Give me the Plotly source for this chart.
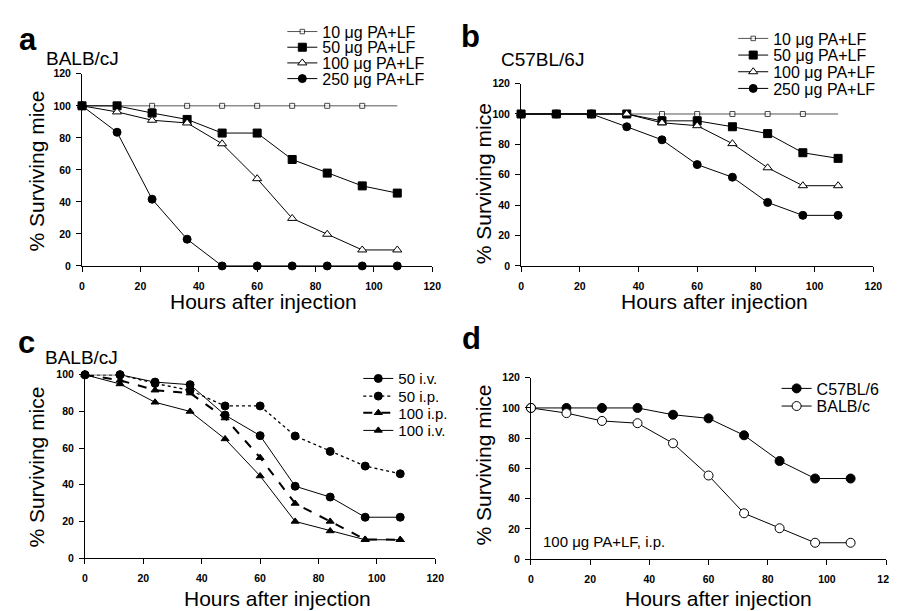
import plotly.graph_objects as go

W, H = 897, 611

# ---------------- data ----------------
hours = [0, 12, 24, 36, 48, 60, 72, 84, 96, 108]
axis_ticks = [0, 20, 40, 60, 80, 100, 120]
axis_ticks_c = [0, 20, 40, 60, 80, 100]

# panel a: BALB/cJ
a_10 = [100, 100, 100, 100, 100, 100, 100, 100, 100, 100]
a_50 = [100, 100, 95.5, 91.5, 83, 83, 66.5, 58, 50, 45.5]
a_100 = [100, 96.2, 91, 89.3, 76.3, 54.5, 29.7, 19.8, 10, 10]
a_250 = [100, 83.5, 41.7, 16.7, 0, 0, 0, 0, 0, 0]

# panel b: C57BL/6J
b_10 = [100, 100, 100, 100, 100, 100, 100, 100, 100, 100]
b_50 = [100, 100, 100, 100, 95.5, 95.5, 91.6, 87.1, 74.5, 70.8]
b_100 = [100, 100, 100, 100, 94.2, 92.3, 80.5, 64.6, 52.8, 52.8]
b_250 = [100, 100, 100, 91.6, 83, 66.7, 58.4, 41.8, 33.3, 33.3]

# panel c: BALB/cJ, route of injection
c_50iv = [100, 100, 96, 94.6, 78, 66.8, 39.2, 33.3, 22.3, 22.3]
c_50ip = [100, 100, 95.3, 91.5, 83, 83, 66.6, 58.2, 50.2, 46]
c_100ip = [100, 97, 91.6, 90, 76.4, 54.8, 29.8, 20, 10.2, 10]
c_100iv = [100, 95, 85, 80, 65, 44.8, 20, 14.8, 10, 10]

# panel d: 100 ug PA+LF i.p.
d_c57 = [100, 100, 100, 100, 95.5, 93.1, 81.9, 64.9, 53.3, 53.3]
d_balb = [100, 96.6, 91.4, 89.9, 76.6, 55.3, 30.3, 20.4, 10.8, 10.8]

dose_names = ["10 μg PA+LF", "50 μg PA+LF", "100 μg PA+LF", "250 μg PA+LF"]
route_names = ["50 i.v.", "50 i.p.", "100 i.p.", "100 i.v."]
strain_names = ["C57BL/6", "BALB/c"]

FONT = "Arial, Liberation Sans, sans-serif"


def px(x):
    return x / W


def py(y):
    return 1 - y / H


fig = go.Figure()

# axis domains (pixel boxes)
domains = {
    "1": dict(x=[72, 427], y=[257, 61]),
    "2": dict(x=[517, 874], y=[257, 71]),
    "3": dict(x=[75, 430], y=[555, 368]),
    "4": dict(x=[527, 887], y=[556, 371]),
}

legend_slots = {}
leg_counter = [0]


def add_legend(xtext, ycenter, size):
    leg_counter[0] += 1
    n = leg_counter[0]
    name = "legend" if n == 1 else f"legend{n}"
    legend_slots[name] = dict(
        x=px(xtext - 40), y=py(ycenter), xanchor="left", yanchor="middle",
        bgcolor="rgba(0,0,0,0)", borderwidth=0,
        font=dict(family=FONT, size=size, color="black"),
        itemwidth=30, tracegroupgap=0,
    )
    return name


def add_trace(ax, y, name, symbol, msize, mfill, lcolor="black", dash="solid",
              lwidth=1, leg=None, sizes=None):
    xa = "x" if ax == "1" else "x" + ax
    ya = "y" if ax == "1" else "y" + ax
    fig.add_trace(go.Scatter(
        x=hours, y=y, name=name, mode="lines+markers",
        xaxis=xa, yaxis=ya,
        line=dict(color=lcolor, width=lwidth, dash=dash),
        marker=dict(symbol=symbol, size=sizes if sizes else msize, color=mfill,
                    line=dict(color="black", width=1)),
        cliponaxis=False,
        legend=leg, showlegend=leg is not None,
    ))


# panel a
rows_a = [18, 34, 50, 66]
add_trace("1", a_10, dose_names[0], "square", 5, "white", lcolor="#555",
          leg=add_legend(315, rows_a[0], 16), sizes=[5] * 9 + [0])
add_trace("1", a_50, dose_names[1], "square", 8, "black", leg=add_legend(315, rows_a[1], 16))
add_trace("1", a_100, dose_names[2], "triangle-up", 8, "white", leg=add_legend(315, rows_a[2], 16))
add_trace("1", a_250, dose_names[3], "circle", 8, "black", leg=add_legend(315, rows_a[3], 16))

# panel b
rows_b = [25, 42, 59, 76]
add_trace("2", b_10, dose_names[0], "square", 5, "white", lcolor="#555",
          leg=add_legend(772, rows_b[0], 16), sizes=[5] * 9 + [0])
add_trace("2", b_50, dose_names[1], "square", 8, "black", leg=add_legend(772, rows_b[1], 16))
add_trace("2", b_100, dose_names[2], "triangle-up", 8, "white", leg=add_legend(772, rows_b[2], 16))
add_trace("2", b_250, dose_names[3], "circle", 8, "black", leg=add_legend(772, rows_b[3], 16))

# panel c
rows_c = [372, 390, 407, 425]
add_trace("3", c_50iv, route_names[0], "circle", 8, "black", leg=add_legend(392, rows_c[0], 15))
add_trace("3", c_50ip, route_names[1], "circle", 8, "black", dash="dot", lwidth=1.3,
          leg=add_legend(392, rows_c[1], 15))
add_trace("3", c_100ip, route_names[2], "triangle-up", 7, "black", dash="dash", lwidth=2,
          leg=add_legend(392, rows_c[2], 15))
add_trace("3", c_100iv, route_names[3], "triangle-up", 7, "black", leg=add_legend(392, rows_c[3], 15))

# panel d
rows_d = [382, 400]
add_trace("4", d_c57, strain_names[0], "circle", 9, "black", leg=add_legend(816, rows_d[0], 16))
add_trace("4", d_balb, strain_names[1], "circle", 9, "white", leg=add_legend(816, rows_d[1], 16))

layout = dict(
    width=W, height=H, margin=dict(l=0, r=0, t=0, b=0),
    paper_bgcolor="white", plot_bgcolor="white",
    font=dict(family=FONT, color="black"),
)
for ax, d in domains.items():
    xk = "xaxis" if ax == "1" else "xaxis" + ax
    yk = "yaxis" if ax == "1" else "yaxis" + ax
    xname = "x" if ax == "1" else "x" + ax
    yname = "y" if ax == "1" else "y" + ax
    yt = axis_ticks_c if ax == "3" else axis_ticks
    common = dict(showline=True, linecolor="black", linewidth=1, ticks="outside",
                  ticklen=5, tickcolor="black", tickwidth=1, showgrid=False,
                  zeroline=False, tickfont=dict(family=FONT, size=10.5, color="black", weight="bold"),
                  fixedrange=True)
    layout[xk] = dict(domain=[px(d["x"][0]), px(d["x"][1])], range=[0, 120],
                      tickvals=axis_ticks, anchor=yname, ticklabelstandoff=5, **common)
    layout[yk] = dict(domain=[py(d["y"][0]), py(d["y"][1])], range=[0, yt[-1]],
                      tickvals=yt, anchor=xname, ticklabelstandoff=3, **common)

layout.update(legend_slots)

ann = []


def text(x, y, s, size, bold=False, angle=0, xanchor="center"):
    ann.append(dict(x=px(x), y=py(y), xref="paper", yref="paper", text=s,
                    showarrow=False, xanchor=xanchor, yanchor="middle", textangle=angle,
                    font=dict(family=FONT, size=size, color="black",
                              weight="bold" if bold else "normal")))


# panel letters
text(17, 26, "a", 31, bold=True)
text(466, 23, "b", 31, bold=True)
text(16, 335, "c", 31, bold=True)
text(467, 331, "d", 31, bold=True)
# strain labels
text(33, 45, "BALB/cJ", 19, xanchor="left")
text(495, 46, "C57BL/6J", 19, xanchor="left")
text(32, 350, "BALB/cJ", 19, xanchor="left")
text(537, 538, "100 μg PA+LF, i.p.", 15, xanchor="left")
# axis titles
for (xc, yc) in [(256, 293), (713, 293), (270, 596), (717, 596)]:
    text(xc, yc, "Hours after injection", 21)
for (xc, yc) in [(26, 160), (479, 173), (26, 462), (479, 460)]:
    text(xc, yc, "% Surviving mice", 21, angle=-90)

layout["annotations"] = ann
fig.update_layout(**layout)
fig.write_html("out.html")
